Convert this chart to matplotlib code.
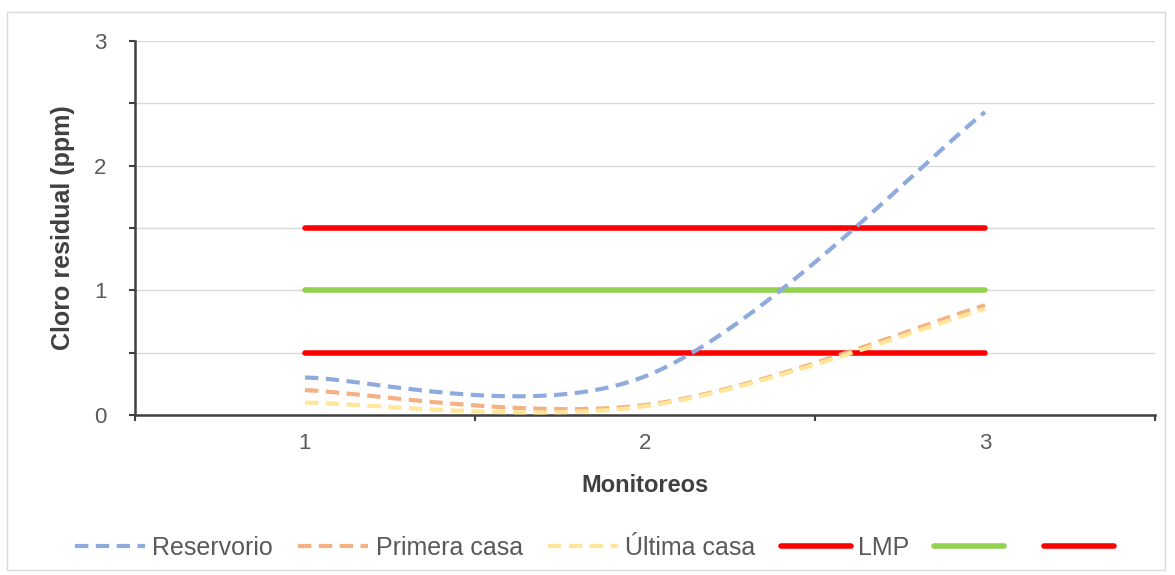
import numpy as np
import matplotlib
matplotlib.use("Agg")
import matplotlib.pyplot as plt
from matplotlib.patches import Rectangle

plt.rcParams["font.family"] = ["Liberation Sans", "DejaVu Sans"]

# ---- data ----
monitoreos = [1, 2, 3]
reservorio = [0.30, 0.31, 2.43]
primera_casa = [0.20, 0.08, 0.88]
ultima_casa = [0.10, 0.07, 0.85]
lmp_sup = [1.5, 1.5, 1.5]
optimo = [1.0, 1.0, 1.0]
lmp_inf = [0.5, 0.5, 0.5]
x_ticklabels = ["1", "2", "3"]


def excel_smooth(x, y, n=60):
    """Excel-like smoothed line (cubic Bezier, tension 1/6)."""
    p = np.column_stack([x, y]).astype(float)
    out = []
    for i in range(len(p) - 1):
        p0 = p[i - 1] if i > 0 else p[i]
        p1 = p[i]
        p2 = p[i + 1]
        p3 = p[i + 2] if i + 2 < len(p) else p[i + 1]
        c1 = p1 + (p2 - p0) / 6.0
        c2 = p2 - (p3 - p1) / 6.0
        t = np.linspace(0, 1, n)[:, None]
        seg = ((1 - t) ** 3) * p1 + 3 * ((1 - t) ** 2) * t * c1 + 3 * (1 - t) * t ** 2 * c2 + t ** 3 * p2
        out.append(seg if i == 0 else seg[1:])
    s = np.vstack(out)
    return s[:, 0], s[:, 1]


fig = plt.figure(figsize=(11.75, 5.75), dpi=100)
fig.patches.append(Rectangle((7 / 1175, 1 - 570 / 575), 1158 / 1175, 558 / 575,
                             transform=fig.transFigure, fill=False,
                             edgecolor="#D9D9D9", linewidth=1.0))
ax = fig.add_axes([135 / 1175, 1 - 415 / 575, 1020 / 1175, 374 / 575])

lw_d = 3.0
dsh = (3.2, 1.8)
ax.plot(*excel_smooth(monitoreos, reservorio), color="#8FAADC", lw=lw_d,
        dashes=dsh, label="Reservorio", zorder=3)
ax.plot(*excel_smooth(monitoreos, primera_casa), color="#F4B183", lw=lw_d,
        dashes=dsh, label="Primera casa", zorder=3)
ax.plot(*excel_smooth(monitoreos, ultima_casa), color="#FFE699", lw=lw_d,
        dashes=dsh, label="Última casa", zorder=3)
ax.plot(monitoreos, lmp_sup, color="#FF0000", lw=4, solid_capstyle="round",
        label="LMP", zorder=2)
ax.plot(monitoreos, optimo, color="#92D050", lw=4, solid_capstyle="round",
        label=" ", zorder=2)
ax.plot(monitoreos, lmp_inf, color="#FF0000", lw=4, solid_capstyle="round",
        label="  ", zorder=2)

ax.set_xlim(0.5, 3.5)
ax.set_ylim(0, 3)
ax.set_xticks([0.5, 1.5, 2.5, 3.5])
ax.set_xticklabels([])
ax.set_xticks(monitoreos, minor=True)
ax.set_xticklabels(x_ticklabels, minor=True)
ax.tick_params(axis="x", which="major", length=4.5, width=1.5, color="#404040", direction="out")
ax.tick_params(axis="x", which="minor", length=0, pad=13, labelsize=16, labelcolor="#595959")

ax.set_yticks(np.arange(0, 3.01, 0.5))
ax.set_yticklabels(["0", "", "1", "", "2", "", "3"])
ax.tick_params(axis="y", length=4.5, width=1.5, color="#404040", direction="out",
               labelsize=16, labelcolor="#595959", pad=16)
ax.grid(axis="y", color="#D9D9D9", lw=1.0)
ax.set_axisbelow(True)

for s in ["top", "right"]:
    ax.spines[s].set_visible(False)
for s in ["left", "bottom"]:
    ax.spines[s].set_color("#404040")
    ax.spines[s].set_linewidth(1.8)

ax.set_ylabel("Cloro residual (ppm)", fontsize=18, fontweight="bold", color="#404040", labelpad=14)
ax.set_xlabel("Monitoreos", fontsize=17, fontweight="bold", color="#404040", labelpad=14)

fig.legend(loc="center", bbox_to_anchor=(0.515, 1 - 548 / 575), ncol=6, frameon=False,
           fontsize=18, labelcolor="#595959", handlelength=2.8, columnspacing=1.0,
           handletextpad=0.3)

fig.savefig("out.png", dpi=100)
